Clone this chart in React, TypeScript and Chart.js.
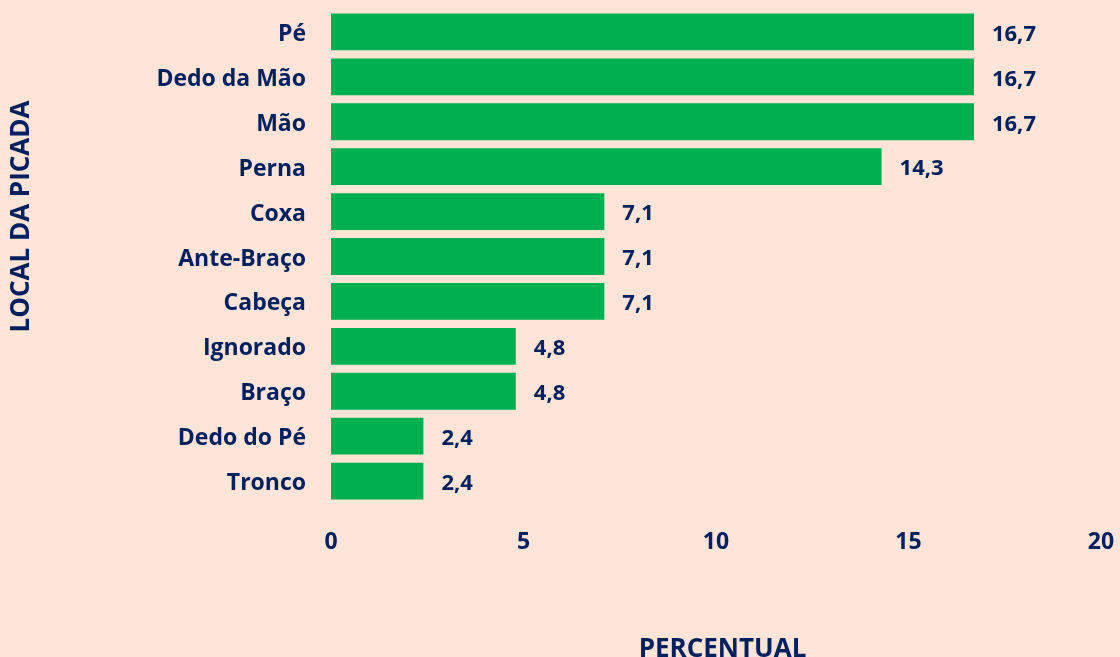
import React, { useEffect, useRef } from "react";
import { Chart, registerables } from "chart.js";

Chart.register(...registerables);

const categories = [
  "Pé",
  "Dedo da Mão",
  "Mão",
  "Perna",
  "Coxa",
  "Ante-Braço",
  "Cabeça",
  "Ignorado",
  "Braço",
  "Dedo do Pé",
  "Tronco",
];
const percentValues = [16.7, 16.7, 16.7, 14.3, 7.1, 7.1, 7.1, 4.8, 4.8, 2.4, 2.4];
const xTickValues = [0, 5, 10, 15, 20];
const xAxisTitle = "PERCENTUAL";
const yAxisTitle = "LOCAL DA PICADA";

const BG = "#FCE4D6";
const GREEN = "#00B050";
const NAVY = "#002060";
const FONT = "'Open Sans', 'DejaVu Sans', sans-serif";

const valueLabelPlugin = {
  id: "valueLabels",
  afterDatasetsDraw(chart: any) {
    const ctx = chart.ctx;
    const meta = chart.getDatasetMeta(0);
    ctx.save();
    ctx.font = `bold 22px ${FONT}`;
    ctx.fillStyle = NAVY;
    ctx.textAlign = "left";
    ctx.textBaseline = "middle";
    meta.data.forEach((bar: any, i: number) => {
      const v = percentValues[i];
      ctx.fillText(v.toFixed(1).replace(".", ","), bar.x + 18, bar.y + 2.5);
    });
    ctx.restore();
  },
};

const titlesPlugin = {
  id: "axisTitles",
  afterDraw(chart: any) {
    const ctx = chart.ctx;
    ctx.save();
    ctx.font = `bold 26px ${FONT}`;
    ctx.fillStyle = NAVY;
    ctx.textAlign = "center";
    ctx.textBaseline = "alphabetic";
    ctx.fillText(xAxisTitle, 722.5, 657);
    ctx.translate(22, 216.5);
    ctx.rotate(-Math.PI / 2);
    ctx.textBaseline = "middle";
    ctx.fillText(yAxisTitle, 0, 0);
    ctx.restore();
  },
};

function resetPadding(scale: any) {
  scale.paddingTop = 0;
  scale.paddingBottom = 0;
  scale.paddingLeft = 0;
  scale.paddingRight = 0;
}

export default function App() {
  const canvasRef = useRef<HTMLCanvasElement | null>(null);

  useEffect(() => {
    if (!canvasRef.current) return;
    const chart = new Chart(canvasRef.current, {
      type: "bar",
      data: {
        labels: categories,
        datasets: [
          {
            data: percentValues,
            backgroundColor: GREEN,
            borderWidth: 0,
            categoryPercentage: 1,
            barPercentage: 0.82,
          },
        ],
      },
      options: {
        indexAxis: "y",
        responsive: false,
        animation: false,
        layout: { padding: { top: 9.5, right: 19, left: 0, bottom: 0 } },
        plugins: {
          legend: { display: false },
          tooltip: { enabled: false },
        },
        scales: {
          x: {
            min: 0,
            max: 20,
            afterBuildTicks(scale: any) {
              scale.ticks = xTickValues.map((v) => ({ value: v }));
            },
            ticks: {
              stepSize: 5,
              color: NAVY,
              padding: 25,
              font: { family: FONT, weight: "bold", size: 23 },
            },
            grid: { display: false, drawTicks: false },
            border: { display: false },
            afterFit(scale: any) {
              scale.height = 153.5;
              resetPadding(scale);
            },
          },
          y: {
            ticks: {
              color: NAVY,
              padding: 25,
              labelOffset: 2.5,
              font: { family: FONT, weight: "bold", size: 23 },
            },
            grid: { display: false, drawTicks: false },
            border: { display: false },
            afterFit(scale: any) {
              scale.width = 331;
              resetPadding(scale);
            },
          },
        },
      },
      plugins: [valueLabelPlugin, titlesPlugin],
    } as any);
    return () => chart.destroy();
  }, []);

  return (
    <div
      style={{
        position: "fixed",
        left: 0,
        top: 0,
        width: 1120,
        height: 657,
        background: BG,
        overflow: "hidden",
      }}
    >
      <canvas ref={canvasRef} width={1120} height={657} style={{ width: 1120, height: 657, display: "block" }} />
    </div>
  );
}
